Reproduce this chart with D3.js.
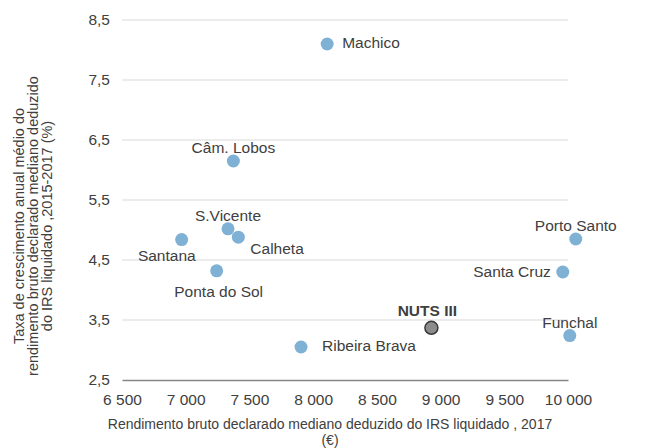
<!DOCTYPE html>
<html>
<head>
<meta charset="utf-8">
<script src="https://cdn.jsdelivr.net/npm/d3@7"></script>
<style>
    body { margin: 0; background: #fff; }
    text { font-family: "Liberation Sans", Arial, sans-serif; fill: #404040; }
</style>
</head>
<body>
<div id="chart"></div>
<script>
// municipalities (NUTS III last)
var names = ["Machico", "Câm. Lobos", "S.Vicente", "Calheta", "Santana", "Ponta do Sol",
    "Porto Santo", "Santa Cruz", "Funchal", "Ribeira Brava", "NUTS III"];
var income = [8110, 7374, 7332, 7413, 6968, 7243, 10061, 9959, 10014, 7905, 8928];
var growth = [8.10, 6.15, 5.02, 4.88, 4.84, 4.32, 4.85, 4.30, 3.24, 3.05, 3.37];
var xTicks = [6500, 7000, 7500, 8000, 8500, 9000, 9500, 10000];
var yTicks = [2.5, 3.5, 4.5, 5.5, 6.5, 7.5, 8.5];
// label placement per point
var labelSide = ["right", "above", "above", "belowRight", "belowLeft", "below",
    "above", "left", "above", "right", "above"];

function init() {
    var w = 656;
    var h = 448;

    var pt = d3.formatLocale({ decimal: ",", thousands: "\u00a0", grouping: [3], currency: ["", "€"] });
    var fmtX = pt.format(",d");
    var fmtY = pt.format(".1f");

    var xScale = d3.scaleLinear()
        .domain([6500, 10000])
        .range([122, 568]);

    var yScale = d3.scaleLinear()
        .domain([2.5, 8.5])
        .range([380, 20]);

    var svg = d3.select("#chart")
        .append("svg")
        .attr("width", w)
        .attr("height", h);

    // gridlines
    svg.selectAll(".grid")
        .data(yTicks.slice(1))
        .enter()
        .append("line")
        .attr("class", "grid")
        .attr("x1", xScale(6500))
        .attr("x2", xScale(10000))
        .attr("y1", function (d) { return yScale(d); })
        .attr("y2", function (d) { return yScale(d); })
        .attr("stroke", "#d9d9d9")
        .attr("stroke-width", 1);

    // x axis
    var xAxis = d3.axisBottom(xScale)
        .tickValues(xTicks)
        .tickSize(0)
        .tickPadding(14)
        .tickFormat(fmtX);

    var gx = svg.append("g")
        .attr("transform", "translate(0," + yScale(2.5) + ")")
        .call(xAxis);
    gx.select(".domain").attr("stroke", "#868686").attr("stroke-width", 1.5);
    gx.selectAll("text").style("font-size", "15.5px").attr("fill", "#404040");

    // y axis
    var yAxis = d3.axisLeft(yScale)
        .tickValues(yTicks)
        .tickSize(0)
        .tickPadding(12)
        .tickFormat(fmtY);

    var gy = svg.append("g")
        .attr("transform", "translate(" + xScale(6500) + ",0)")
        .call(yAxis);
    gy.select(".domain").remove();
    gy.selectAll("text").style("font-size", "15.5px").attr("fill", "#404040");

    // axis titles
    svg.append("text")
        .attr("x", 330)
        .attr("y", 429)
        .attr("text-anchor", "middle")
        .style("font-size", "14px")
        .text("Rendimento bruto declarado mediano deduzido do IRS liquidado , 2017");
    svg.append("text")
        .attr("x", 330)
        .attr("y", 445)
        .attr("text-anchor", "middle")
        .style("font-size", "14px")
        .text("(€)");

    var yTitle = ["Taxa de crescimento anual médio do",
        "rendimento bruto declarado mediano deduzido",
        "do IRS liquidado ,2015-2017 (%)"];
    svg.append("g")
        .attr("transform", "translate(24,226) rotate(-90)")
        .selectAll("text")
        .data(yTitle)
        .enter()
        .append("text")
        .attr("x", 0)
        .attr("y", function (d, i) { return i * 14; })
        .attr("text-anchor", "middle")
        .style("font-size", "14.5px")
        .text(function (d) { return d; });

    // points
    svg.selectAll(".dot")
        .data(names)
        .enter()
        .append("circle")
        .attr("class", "dot")
        .attr("cx", function (d, i) { return xScale(income[i]); })
        .attr("cy", function (d, i) { return yScale(growth[i]); })
        .attr("r", 6.5)
        .attr("fill", function (d) { return d == "NUTS III" ? "#8c8c8c" : "#7fb1d5"; })
        .attr("stroke", function (d) { return d == "NUTS III" ? "#3a3a3a" : "none"; })
        .attr("stroke-width", 1.5);

    // labels
    var offsets = {
        right: [15, 4, "start"],
        above: [0, -8, "middle"],
        below: [2, 26, "middle"],
        belowRight: [12, 17, "start"],
        belowLeft: [14, 21, "end"],
        left: [-12, 5, "end"]
    };

    svg.selectAll(".lbl")
        .data(names)
        .enter()
        .append("text")
        .attr("class", "lbl")
        .attr("x", function (d, i) {
            var dx = offsets[labelSide[i]][0];
            if (d == "Ribeira Brava") dx = 21;
            if (d == "NUTS III") dx = -4;
            return xScale(income[i]) + dx;
        })
        .attr("y", function (d, i) {
            var dy = offsets[labelSide[i]][1];
            if (d == "NUTS III") dy = -12;
            return yScale(growth[i]) + dy;
        })
        .attr("text-anchor", function (d, i) { return offsets[labelSide[i]][2]; })
        .style("font-size", "15.5px")
        .style("font-weight", function (d) { return d == "NUTS III" ? "bold" : "normal"; })
        .text(function (d) { return d; });
}

window.onload = init;
</script>
</body>
</html>
